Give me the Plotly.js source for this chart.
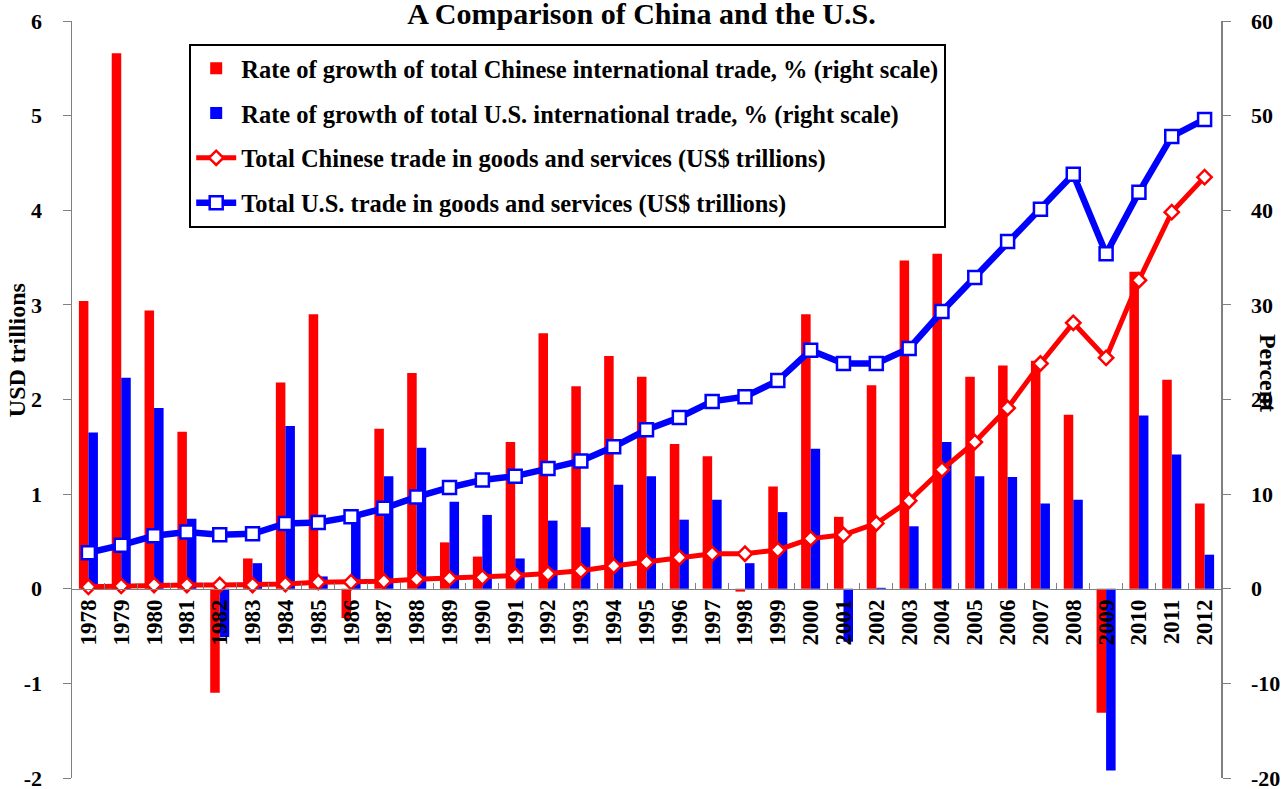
<!DOCTYPE html>
<html>
<head>
<meta charset="utf-8">
<script src="https://cdn.plot.ly/plotly-3.0.1.min.js"></script>
<style>html,body{margin:0;padding:0;background:#fff;}#chart{width:1283px;height:789px;}</style>
</head>
<body>
<div id="chart"></div>
<script>
const years = ["1978","1979","1980","1981","1982","1983","1984","1985","1986","1987","1988","1989","1990","1991","1992","1993","1994","1995","1996","1997","1998","1999","2000","2001","2002","2003","2004","2005","2006","2007","2008","2009","2010","2011","2012"];
const chinaGrowthPct = [30.4,56.6,29.4,16.6,-11.0,3.2,21.8,29.0,-3.1,16.9,22.8,4.9,3.4,15.5,27.0,21.4,24.6,22.4,15.3,14.0,-0.3,10.8,29.0,7.6,21.5,34.7,35.4,22.4,23.6,24.1,18.4,-13.1,33.5,22.1,9.0];
const usGrowthPct = [16.5,22.3,19.1,7.4,-5.1,2.7,17.2,1.3,7.6,11.9,14.9,9.2,7.8,3.2,7.2,6.5,11.0,11.9,7.3,9.4,2.7,8.1,14.8,-5.6,0.1,6.6,15.5,11.9,11.8,9.0,9.4,-19.2,18.3,14.2,3.6];
const chinaTradeTn = [0.02,0.03,0.04,0.04,0.04,0.04,0.05,0.07,0.07,0.08,0.10,0.11,0.12,0.14,0.16,0.19,0.24,0.28,0.33,0.37,0.37,0.41,0.53,0.57,0.69,0.93,1.26,1.55,1.91,2.38,2.81,2.44,3.26,3.98,4.35];
const usTradeTn = [0.38,0.46,0.56,0.60,0.57,0.58,0.69,0.70,0.76,0.85,0.97,1.07,1.15,1.19,1.27,1.35,1.50,1.68,1.81,1.98,2.03,2.20,2.52,2.38,2.38,2.54,2.93,3.29,3.67,4.01,4.38,3.54,4.19,4.78,4.96];
const leftTickVals = [-2,-1,0,1,2,3,4,5,6];
const leftTickText = ["-2","-1","0","1","2","3","4","5","6"];
const rightTickVals = [-20,-10,0,10,20,30,40,50,60];
const rightTickText = ["-20","-10","0","10","20","30","40","50","60"];

const FONT = "Liberation Serif, Times New Roman, serif";

const traces = [
  {type:'bar', x:years, y:chinaGrowthPct, name:'Rate of growth of total Chinese international trade, % (right scale)',
   marker:{color:'#ff0000'}, yaxis:'y', legendgroup:'a'},
  {type:'bar', x:years, y:usGrowthPct, name:'Rate of growth of total U.S. international trade, % (right scale)',
   marker:{color:'#0000ff'}, yaxis:'y', legendgroup:'b'},
  {type:'scatter', mode:'lines+markers', x:years, y:chinaTradeTn, name:'Total Chinese trade in goods and services (US$ trillions)',
   line:{color:'#ff0000', width:5}, marker:{symbol:'diamond', size:11, color:'#ffffff', line:{color:'#ff0000', width:2.5}},
   yaxis:'y2', legendgroup:'c'},
  {type:'scatter', mode:'lines+markers', x:years, y:usTradeTn, name:'Total U.S. trade in goods and services (US$ trillions)',
   line:{color:'#0000ff', width:6.5}, marker:{symbol:'square', size:13, color:'#ffffff', line:{color:'#0000ff', width:2.5}},
   yaxis:'y2', legendgroup:'d'}
];

const layout = {
  width:1283, height:789,
  margin:{l:72, r:62, t:21, b:11},
  paper_bgcolor:'#ffffff', plot_bgcolor:'rgba(0,0,0,0)',
  font:{family:FONT, size:22, color:'#000', weight:'bold'},
  title:{text:'A Comparison of China and the U.S.', x:0.5, xanchor:'center', y:0.983, yanchor:'middle',
         font:{family:FONT, size:30, weight:'bold', color:'#000'}},
  showlegend:true,
  legend:{x:0.102, xanchor:'left', y:0.97, yanchor:'top', bgcolor:'#ffffff', bordercolor:'#000', borderwidth:2,
          font:{family:FONT, size:24.5, weight:'bold'}, tracegroupgap:10, itemwidth:40, traceorder:'grouped'},
  barmode:'group', bargap:0.42, bargroupgap:0,
  xaxis:{type:'category', range:[-0.5,34.5], anchor:'free', position:0.25, showline:true, linecolor:'#808080', linewidth:1.5,
         ticks:'inside', tickson:'boundaries', ticklen:6, tickcolor:'#808080', tickangle:-90,
         tickfont:{family:FONT, size:23, weight:'bold'}, showgrid:false, zeroline:false, fixedrange:true},
  yaxis:{side:'right', range:[-20,60], tickmode:'array', tickvals:rightTickVals, ticktext:rightTickText,
         showline:true, linecolor:'#808080', linewidth:1.5, ticklabeloverflow:'allow',
         ticks:'outside', ticklen:8, tickcolor:'#808080', ticklabelstandoff:16,
         tickfont:{family:FONT, size:22, weight:'bold'}, showgrid:false, zeroline:false},
  yaxis2:{side:'left', overlaying:'y', range:[-2,6], tickmode:'array', tickvals:leftTickVals, ticktext:leftTickText,
          showline:true, linecolor:'#808080', linewidth:1.5, ticklabeloverflow:'allow',
          ticks:'outside', ticklen:8, tickcolor:'#808080', ticklabelstandoff:16,
          tickfont:{family:FONT, size:22, weight:'bold'}, showgrid:false, zeroline:false},
  annotations:[
    {text:'USD trillions', xref:'paper', yref:'paper', x:-0.048, y:0.565, textangle:-90, showarrow:false,
     xanchor:'center', yanchor:'middle', font:{family:FONT, size:24, weight:'bold'}},
    {text:'Percent', xref:'paper', yref:'paper', x:1.041, y:0.535, textangle:90, showarrow:false,
     xanchor:'center', yanchor:'middle', font:{family:FONT, size:24, weight:'bold'}}
  ]
};

Plotly.newPlot('chart', traces, layout, {displayModeBar:false, staticPlot:true});
</script>
</body>
</html>
